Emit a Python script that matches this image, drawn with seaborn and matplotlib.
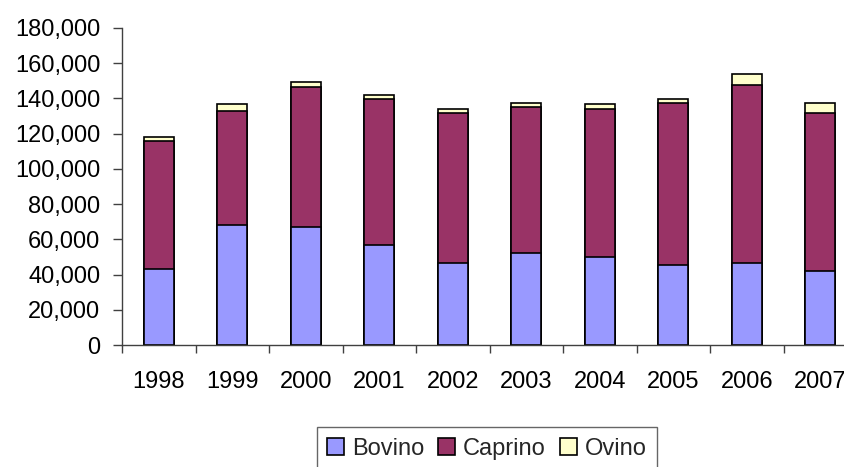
import matplotlib
matplotlib.use("Agg")
import matplotlib.pyplot as plt
import matplotlib.ticker as mticker
from matplotlib.patches import Patch
import numpy as np
import pandas as pd
import seaborn as sns

# data
years = ["1998", "1999", "2000", "2001", "2002", "2003", "2004", "2005", "2006", "2007"]
bovino = [43000, 68100, 66800, 56800, 46400, 52000, 49800, 45200, 46400, 41800]
caprino = [73000, 64800, 79500, 82900, 85500, 83300, 84400, 92200, 101400, 90100]
ovino = [2300, 3800, 3000, 2400, 2300, 2300, 2500, 2500, 5900, 5700]

colors = {"Bovino": "#9999FF", "Caprino": "#993366", "Ovino": "#FFFFCC"}

df = pd.DataFrame({"year": years, "Bovino": bovino, "Caprino": caprino, "Ovino": ovino})
df["bc"] = df["Bovino"] + df["Caprino"]
df["total"] = df["bc"] + df["Ovino"]

sns.set_theme(style="white")
plt.rcParams["font.family"] = ["Liberation Sans", "DejaVu Sans"]

fig = plt.figure(figsize=(8.44, 4.67), dpi=100)
ax = fig.add_axes([122 / 844, 122 / 467, 735 / 844, 317 / 467])

bar_kw = dict(width=0.41, edgecolor="black", linewidth=1.2, saturation=1, ax=ax)
# stacked look: draw cumulative totals back to front
sns.barplot(data=df, x="year", y="total", color=colors["Ovino"], **bar_kw)
sns.barplot(data=df, x="year", y="bc", color=colors["Caprino"], **bar_kw)
sns.barplot(data=df, x="year", y="Bovino", color=colors["Bovino"], **bar_kw)

ax.set_xlim(-0.5, len(years) - 0.5)
ax.set_ylim(0, 180000)
ax.set_yticks(np.arange(0, 180001, 20000))
ax.yaxis.set_major_formatter(mticker.StrMethodFormatter("{x:,.0f}"))
ax.set_xlabel("")
ax.set_ylabel("")

sns.despine(ax=ax)
for side in ["left", "bottom"]:
    ax.spines[side].set_color("#404040")
    ax.spines[side].set_linewidth(1)

ax.tick_params(axis="y", which="major", left=True, length=6.5, width=1, color="#404040",
               pad=9, labelsize=17, labelcolor="black")
ax.tick_params(axis="x", which="major", bottom=False, length=0, pad=19, labelsize=17,
               labelcolor="black")
ax.set_xticks(np.arange(-0.5, len(years), 1.0), minor=True)
ax.tick_params(axis="x", which="minor", bottom=True, length=6, width=1, color="#404040")

handles = [Patch(facecolor=colors[k], edgecolor="black", linewidth=1.2, label=k)
           for k in ["Bovino", "Caprino", "Ovino"]]
leg = fig.legend(handles=handles, loc="upper center", bbox_to_anchor=(487 / 844, 40 / 467),
                 ncol=3, frameon=True, fancybox=False, fontsize=17, handlelength=0.7,
                 handleheight=0.7, handletextpad=0.35, columnspacing=0.6, borderpad=0.45,
                 borderaxespad=0)
leg.get_frame().set_edgecolor("#404040")
leg.get_frame().set_linewidth(1)

fig.savefig("out.png", dpi=100)
